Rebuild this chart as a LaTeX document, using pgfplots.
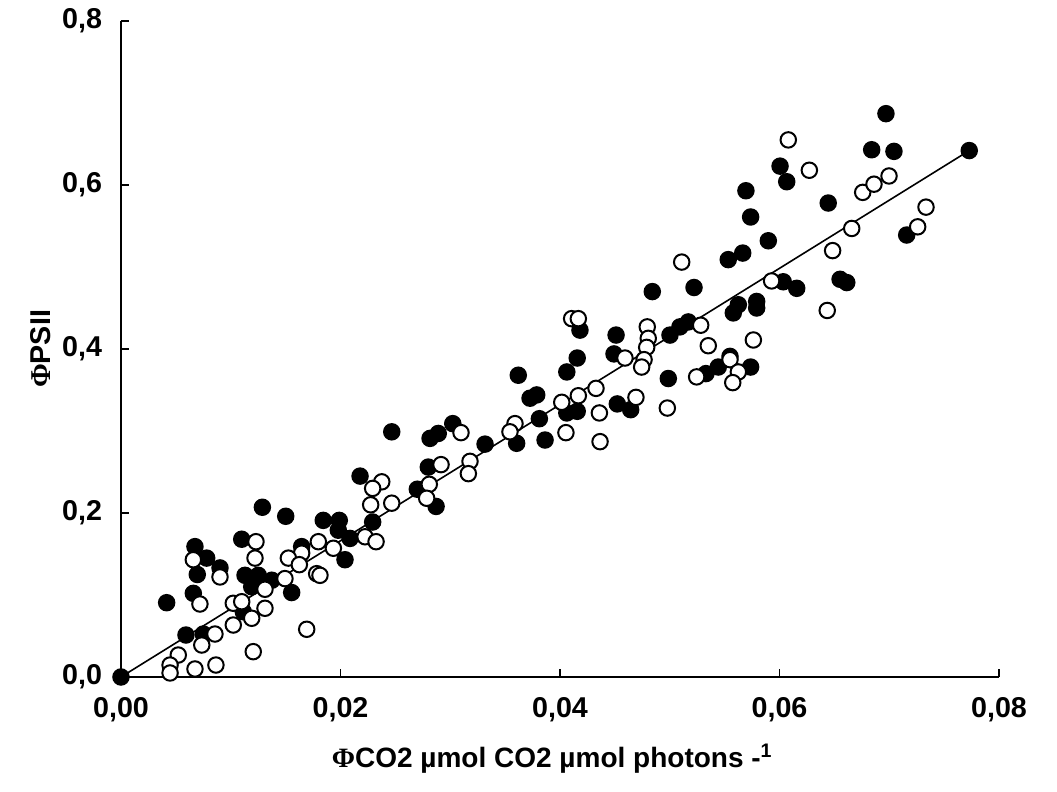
\documentclass[border=0pt]{standalone}
\usepackage{fontspec}
\setmainfont{Liberation Sans}
\newfontfamily\phifont{Liberation Serif}
\usepackage{pgfplots}
\pgfplotsset{compat=1.18}
\begin{document}
\begin{tikzpicture}
\useasboundingbox (-90.75pt,-86.25pt) rectangle (702pt,507.75pt);
\begin{axis}[
  at={(0,0)}, anchor=south west,
  scale only axis, width=658.5pt, height=492pt,
  xmin=0, xmax=0.08, ymin=0, ymax=0.8,
  scaled x ticks=false, scaled y ticks=false,
  axis x line*=bottom, axis y line*=left,
  axis line style={line width=2pt, black},
  xtick={0,0.02,0.04,0.06,0.08},
  xticklabels={{0,00},{0,02},{0,04},{0,06},{0,08}},
  ytick={0,0.2,0.4,0.6,0.8},
  yticklabels={{0,0},{0,2},{0,4},{0,6},{0,8}},
  tick align=inside, major tick length=6pt,
  tick style={line width=1.2pt, black},
  ticklabel style={font=\fontsize{21.5}{25}\selectfont\bfseries},
  xticklabel style={anchor=north, inner sep=0pt, yshift=-15.5pt},
  yticklabel style={anchor=east, inner sep=0pt, xshift=-14pt},
  xlabel={{\phifont Φ}CO2 µmol CO2 µmol photons -\textsuperscript{1}},
  xlabel style={at={(axis description cs:0.491,0)}, anchor=base, yshift=-68pt, inner sep=0pt, font=\fontsize{21}{25}\selectfont\bfseries},
  ylabel={{\phifont Φ}PSII},
  ylabel style={at={(axis description cs:-0.091,0.5)}, anchor=center, inner sep=0pt, font=\fontsize{21.5}{25}\selectfont\bfseries},
  clip=false,
]
% filled symbols
\addplot[only marks, mark=*, mark size=5.8pt, mark options={fill=black, draw=black, line width=1.5pt}] coordinates {
(0,0) (0.00674,0.159) (0.00781,0.145) (0.00902,0.133) (0.00695,0.125)
(0.00416,0.0906) (0.00659,0.102) (0.00592,0.0512) (0.00750,0.0524)
(0.01288,0.207) (0.01501,0.196) (0.01843,0.191) (0.01100,0.168) (0.01646,0.159)
(0.01130,0.124) (0.01251,0.124) (0.01374,0.118) (0.01191,0.110) (0.01555,0.103)
(0.01114,0.0796) (0.03620,0.368) (0.03788,0.344) (0.03727,0.340) (0.02467,0.299)
(0.02816,0.291) (0.02891,0.297) (0.03023,0.309) (0.03317,0.284) (0.03605,0.285)
(0.03812,0.315) (0.03864,0.289) (0.02178,0.245) (0.02800,0.256) (0.02700,0.229)
(0.02871,0.208) (0.02293,0.189) (0.01989,0.191) (0.02087,0.169) (0.01980,0.179)
(0.02041,0.143) (0.05533,0.509) (0.04841,0.470) (0.05221,0.475) (0.04182,0.423)
(0.04511,0.417) (0.05002,0.417) (0.05093,0.427) (0.05169,0.433) (0.04157,0.389)
(0.04062,0.372) (0.04492,0.394) (0.04987,0.364) (0.05330,0.370) (0.05442,0.378)
(0.05549,0.391) (0.05737,0.378) (0.05625,0.454) (0.05579,0.444) (0.05792,0.458)
(0.05792,0.450) (0.04062,0.322) (0.04157,0.324) (0.04522,0.333) (0.04644,0.326)
(0.06970,0.687) (0.06840,0.643) (0.07043,0.641) (0.07729,0.642) (0.06005,0.623)
(0.06066,0.604) (0.05694,0.593) (0.05737,0.561) (0.05898,0.532) (0.05665,0.517)
(0.06444,0.578) (0.07159,0.539) (0.06552,0.485) (0.06613,0.481) (0.06034,0.482)
(0.06157,0.474)
};
% open symbols
\addplot[only marks, mark=*, mark size=5.8pt, mark options={fill=white, draw=black, line width=1.5pt}] coordinates {
(0.00659,0.143) (0.00902,0.122) (0.00719,0.0890) (0.00856,0.0524) (0.00736,0.039)
(0.00522,0.0268) (0.00447,0.0146) (0.00447,0.0049) (0.00674,0.0098) (0.00865,0.0146)
(0.01230,0.165) (0.01221,0.145) (0.01798,0.165) (0.01935,0.157) (0.01646,0.151)
(0.01525,0.145) (0.01625,0.137) (0.01494,0.120) (0.01783,0.126) (0.01813,0.124)
(0.01312,0.107) (0.01023,0.0899) (0.01100,0.0918) (0.01312,0.0838) (0.01191,0.0716)
(0.01023,0.0634) (0.01692,0.0582) (0.01205,0.0309) (0.03098,0.298) (0.03590,0.309)
(0.03544,0.299) (0.02376,0.238) (0.02293,0.230) (0.02916,0.259) (0.03180,0.263)
(0.03165,0.248) (0.02809,0.235) (0.02785,0.218) (0.02467,0.212) (0.02275,0.210)
(0.02224,0.171) (0.02324,0.165) (0.05109,0.506) (0.04106,0.437) (0.04167,0.437)
(0.04795,0.427) (0.04804,0.413) (0.04790,0.402) (0.05282,0.429) (0.04592,0.389)
(0.04766,0.387) (0.04744,0.378) (0.05351,0.404) (0.05762,0.411) (0.05245,0.366)
(0.05549,0.387) (0.05625,0.372) (0.05574,0.359) (0.04016,0.335) (0.04167,0.343)
(0.04328,0.352) (0.04359,0.322) (0.04692,0.341) (0.04978,0.328) (0.04054,0.298)
(0.04365,0.287) (0.06080,0.655) (0.06272,0.618) (0.06758,0.591) (0.06861,0.601)
(0.06998,0.611) (0.06658,0.547) (0.06484,0.520) (0.07335,0.573) (0.07259,0.549)
(0.06435,0.447) (0.05928,0.483)
};
% regression line
\addplot[black, line width=1.2pt] coordinates {(0,0) (0.07729,0.642)};
\end{axis}
\end{tikzpicture}
\end{document}
